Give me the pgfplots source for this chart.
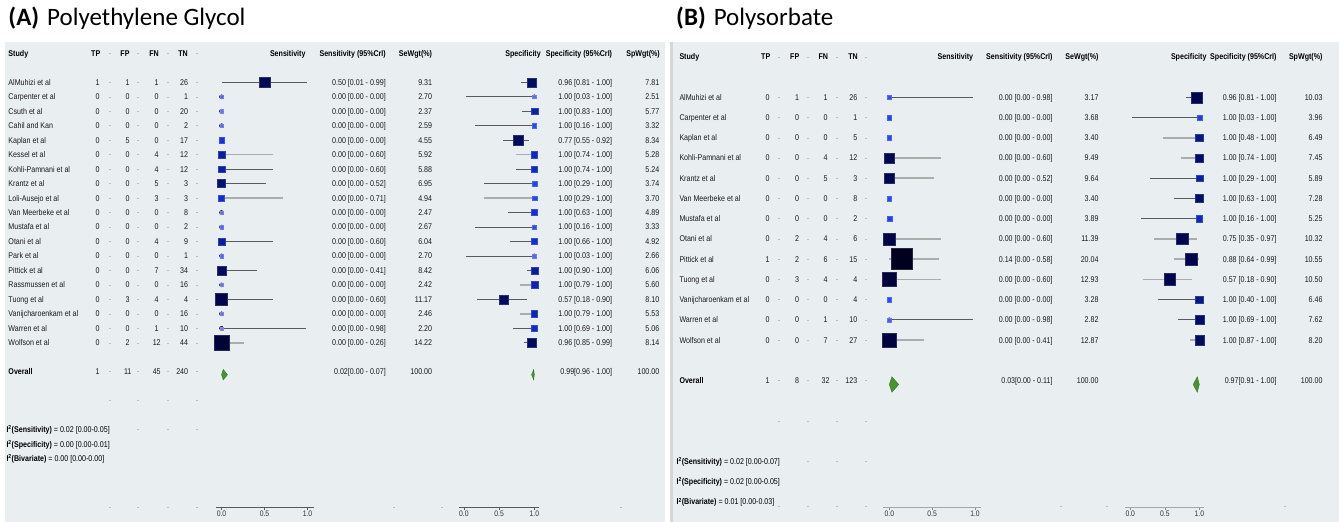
\documentclass[border=0pt]{standalone}
\usepackage{fontspec}
\setmainfont[FakeStretch=0.85]{Liberation Sans}
\newfontfamily\titlefont{Carlito}
\usepackage{pgfplots}
\usepackage{pgfplotstable}
\pgfplotsset{compat=1.18}

\definecolor{panelbg}{RGB}{233,238,241}
\definecolor{diam}{RGB}{74,145,52}
\definecolor{diamd}{RGB}{52,115,38}
\definecolor{cidark}{RGB}{90,90,90}
\definecolor{cilight}{RGB}{172,172,172}
\definecolor{sepc}{RGB}{185,190,195}

\newcommand{\tsz}{\fontsize{8.35}{9}\selectfont}

\pgfplotstableread[col sep=comma]{
y,study,tp,fp,fn,tn,secri,sew,spcri,spw,se,selo,sehi,sel,sp,splo,sphi,spl
-82.3,AlMuhizi et al,1,1,1,26,0.50 [0.01 - 0.99],9.31,0.96 [0.81 - 1.00],7.81,0.50,0.01,0.99,0,0.96,0.81,1.00,0
-96.8,Carpenter et al,0,0,0,1,0.00 [0.00 - 0.00],2.70,1.00 [0.03 - 1.00],2.51,0,0,0,0,1.00,0.03,1.00,0
-111.2,Csuth et al,0,0,0,20,0.00 [0.00 - 0.00],2.37,1.00 [0.83 - 1.00],5.77,0,0,0,0,1.00,0.83,1.00,0
-125.7,Cahil and Kan,0,0,0,2,0.00 [0.00 - 0.00],2.59,1.00 [0.16 - 1.00],3.32,0,0,0,0,1.00,0.16,1.00,0
-140.2,Kaplan et al,0,5,0,17,0.00 [0.00 - 0.00],4.55,0.77 [0.55 - 0.92],8.34,0,0,0,0,0.77,0.55,0.92,0
-154.7,Kessel et al,0,0,4,12,0.00 [0.00 - 0.60],5.92,1.00 [0.74 - 1.00],5.28,0,0,0.60,1,1.00,0.74,1.00,1
-169.1,Kohli-Pamnani et al,0,0,4,12,0.00 [0.00 - 0.60],5.88,1.00 [0.74 - 1.00],5.24,0,0,0.60,0,1.00,0.74,1.00,0
-183.6,Krantz et al,0,0,5,3,0.00 [0.00 - 0.52],6.95,1.00 [0.29 - 1.00],3.74,0,0,0.52,0,1.00,0.29,1.00,0
-198.1,Loli-Ausejo et al,0,0,3,3,0.00 [0.00 - 0.71],4.94,1.00 [0.29 - 1.00],3.70,0,0,0.71,1,1.00,0.29,1.00,1
-212.5,Van Meerbeke et al,0,0,0,8,0.00 [0.00 - 0.00],2.47,1.00 [0.63 - 1.00],4.89,0,0,0,0,1.00,0.63,1.00,0
-227.0,Mustafa et al,0,0,0,2,0.00 [0.00 - 0.00],2.67,1.00 [0.16 - 1.00],3.33,0,0,0,0,1.00,0.16,1.00,0
-241.5,Otani et al,0,0,4,9,0.00 [0.00 - 0.60],6.04,1.00 [0.66 - 1.00],4.92,0,0,0.60,0,1.00,0.66,1.00,0
-255.9,Park et al,0,0,0,1,0.00 [0.00 - 0.00],2.70,1.00 [0.03 - 1.00],2.66,0,0,0,0,1.00,0.03,1.00,0
-270.4,Pittick et al,0,0,7,34,0.00 [0.00 - 0.41],8.42,1.00 [0.90 - 1.00],6.06,0,0,0.41,0,1.00,0.90,1.00,0
-284.9,Rassmussen et al,0,0,0,16,0.00 [0.00 - 0.00],2.42,1.00 [0.79 - 1.00],5.60,0,0,0,0,1.00,0.79,1.00,1
-299.4,Tuong et al,0,3,4,4,0.00 [0.00 - 0.60],11.17,0.57 [0.18 - 0.90],8.10,0,0,0.60,0,0.57,0.18,0.90,0
-313.8,Vanijcharoenkam et al,0,0,0,16,0.00 [0.00 - 0.00],2.46,1.00 [0.79 - 1.00],5.53,0,0,0,0,1.00,0.79,1.00,1
-328.3,Warren et al,0,0,1,10,0.00 [0.00 - 0.98],2.20,1.00 [0.69 - 1.00],5.06,0,0,0.98,0,1.00,0.69,1.00,0
-342.8,Wolfson et al,0,2,12,44,0.00 [0.00 - 0.26],14.22,0.96 [0.85 - 0.99],8.14,0,0,0.26,1,0.96,0.85,0.99,0
-371.7,Overall,1,11,45,240,0.02[0.00 - 0.07],100.00,0.99[0.96 - 1.00],100.00,0.02,0.00,0.07,2,0.99,0.96,1.00,2
}\tabA

\pgfplotstableread[col sep=comma]{
y,study,tp,fp,fn,tn,secri,sew,spcri,spw,se,selo,sehi,sel,sp,splo,sphi,spl
-97.3,AlMuhizi et al,0,1,1,26,0.00 [0.00 - 0.98],3.17,0.96 [0.81 - 1.00],10.03,0,0,0.98,0,0.96,0.81,1.00,0
-117.5,Carpenter et al,0,0,0,1,0.00 [0.00 - 0.00],3.68,1.00 [0.03 - 1.00],3.96,0,0,0,0,1.00,0.03,1.00,0
-137.8,Kaplan et al,0,0,0,5,0.00 [0.00 - 0.00],3.40,1.00 [0.48 - 1.00],6.49,0,0,0,0,1.00,0.48,1.00,1
-158.0,Kohli-Pamnani et al,0,0,4,12,0.00 [0.00 - 0.60],9.49,1.00 [0.74 - 1.00],7.45,0,0,0.60,1,1.00,0.74,1.00,1
-178.2,Krantz et al,0,0,5,3,0.00 [0.00 - 0.52],9.64,1.00 [0.29 - 1.00],5.89,0,0,0.52,1,1.00,0.29,1.00,0
-198.5,Van Meerbeke et al,0,0,0,8,0.00 [0.00 - 0.00],3.40,1.00 [0.63 - 1.00],7.28,0,0,0,0,1.00,0.63,1.00,0
-218.7,Mustafa et al,0,0,0,2,0.00 [0.00 - 0.00],3.89,1.00 [0.16 - 1.00],5.25,0,0,0,0,1.00,0.16,1.00,0
-238.9,Otani et al,0,2,4,6,0.00 [0.00 - 0.60],11.39,0.75 [0.35 - 0.97],10.32,0,0,0.60,1,0.75,0.35,0.97,1
-259.1,Pittick et al,1,2,6,15,0.14 [0.00 - 0.58],20.04,0.88 [0.64 - 0.99],10.55,0.14,0,0.58,1,0.88,0.64,0.99,1
-279.4,Tuong et al,0,3,4,4,0.00 [0.00 - 0.60],12.93,0.57 [0.18 - 0.90],10.50,0,0,0.60,1,0.57,0.18,0.90,1
-299.6,Vanijcharoenkam et al,0,0,0,4,0.00 [0.00 - 0.00],3.28,1.00 [0.40 - 1.00],6.46,0,0,0,0,1.00,0.40,1.00,0
-319.8,Warren et al,0,0,1,10,0.00 [0.00 - 0.98],2.82,1.00 [0.69 - 1.00],7.62,0,0,0.98,0,1.00,0.69,1.00,0
-340.1,Wolfson et al,0,0,7,27,0.00 [0.00 - 0.41],12.87,1.00 [0.87 - 1.00],8.20,0,0,0.41,1,1.00,0.87,1.00,1
-380.5,Overall,1,8,32,123,0.03[0.00 - 0.11],100.00,0.97[0.91 - 1.00],100.00,0.03,0.00,0.11,2,0.97,0.91,1.00,2
}\tabB

\pgfplotsset{
  colormap={wt}{[1pt] rgb255(0pt)=(125,125,245); rgb255(13pt)=(45,75,245); rgb255(26pt)=(20,50,225); rgb255(40pt)=(10,30,160); rgb255(50pt)=(0,15,110); rgb255(70pt)=(0,8,85); rgb255(100pt)=(0,5,65); rgb255(180pt)=(0,0,30)},
  txt/.style={only marks, mark=none, nodes near coords, point meta=explicit symbolic,
    nodes near coords style={font=\tsz, inner sep=0pt, text height=6pt, text depth=0pt, anchor=#1, text=black!90}},
  forest/.style={scale only axis, clip=false, anchor=south west,
    height=507.5pt, ymin=-507.5, ymax=0, xmin=-0.07, xmax=1.07,
    axis y line=none, axis x line=bottom, ytick=\empty,
    xtick={0,0.5,1}, xticklabels={0.0,0.5,1.0},
    tick align=outside, major tick length=2.5pt,
    xticklabel style={font=\fontsize{8}{9}\selectfont, inner sep=1pt, text height=5.6pt, text depth=0pt, text=black!80},
    colormap name=wt, point meta min=2, point meta max=20},
  boxes/.style={scatter, only marks, mark=square*, point meta=explicit,
    scatter/use mapped color={draw=mapped color!85!white, fill=mapped color},
    visualization depends on={\thisrow{#1}\as\wt},
    scatter/@pre marker code/.append style={/tikz/mark size=0.5*\wt+0.5},
    mark options={line width=0.3pt}},
  cibar/.style={only marks, mark=none, error bars/.cd, x dir=both, x explicit, error mark=none, error bar style={#1}},
}
\tikzset{hdr/.style={font=\tsz\bfseries, inner sep=0pt, text height=6pt, text depth=0pt},
  itxt/.style={font=\tsz, inner sep=0pt, text height=6pt, text depth=0pt, anchor=west}}

\begin{document}
\begin{tikzpicture}
\useasboundingbox (0,0) rectangle (1339pt,522pt);
% ---------- frame with all text ----------
\begin{axis}[at={(0pt,0pt)}, anchor=south west, scale only axis, width=1339pt, height=522pt,
  xmin=0, xmax=1339, ymin=-522, ymax=0, hide axis, clip=false]
\fill[panelbg] (axis cs:5,-42.5) rectangle (axis cs:665,-522);
\fill[black!16] (axis cs:670,-42.5) rectangle (axis cs:673,-522);
\fill[panelbg] (axis cs:673,-42.5) rectangle (axis cs:1339,-522);
% titles
\node[anchor=base west, inner sep=0pt, font=\titlefont\fontsize{25}{28}\selectfont] at (axis cs:8.3,-26) {\textbf{(A)}\hspace{8pt}Polyethylene Glycol};
\node[anchor=base west, inner sep=0pt, font=\titlefont\fontsize{25}{28}\selectfont] at (axis cs:676,-26) {\textbf{(B)}\hspace{8pt}Polysorbate};
% headers A
\node[hdr, anchor=west] at (axis cs:8.3,-53.3) {Study};
\node[hdr] at (axis cs:95.7,-53.3) {TP};
\node[hdr] at (axis cs:125,-53.3) {FP};
\node[hdr] at (axis cs:154,-53.3) {FN};
\node[hdr] at (axis cs:183,-53.3) {TN};
\node[hdr, anchor=east] at (axis cs:305.7,-53.3) {Sensitivity};
\node[hdr, anchor=east] at (axis cs:386,-53.3) {Sensitivity (95\%CrI)};
\node[hdr, anchor=east] at (axis cs:432.3,-53.3) {SeWgt(\%)};
\node[hdr, anchor=east] at (axis cs:541,-53.3) {Specificity};
\node[hdr, anchor=east] at (axis cs:612.3,-53.3) {Specificity (95\%CrI)};
\node[hdr, anchor=east] at (axis cs:660,-53.3) {SpWgt(\%)};
\node[hdr, anchor=west] at (axis cs:8.3,-371.7) {Overall};
% headers B
\node[hdr, anchor=west] at (axis cs:679.3,-56.8) {Study};
\node[hdr] at (axis cs:765.7,-56.8) {TP};
\node[hdr] at (axis cs:794.7,-56.8) {FP};
\node[hdr] at (axis cs:823.3,-56.8) {FN};
\node[hdr] at (axis cs:853,-56.8) {TN};
\node[hdr, anchor=east] at (axis cs:973.3,-56.8) {Sensitivity};
\node[hdr, anchor=east] at (axis cs:1052.7,-56.8) {Sensitivity (95\%CrI)};
\node[hdr, anchor=east] at (axis cs:1098.7,-56.8) {SeWgt(\%)};
\node[hdr, anchor=east] at (axis cs:1206.7,-56.8) {Specificity};
\node[hdr, anchor=east] at (axis cs:1276.7,-56.8) {Specificity (95\%CrI)};
\node[hdr, anchor=east] at (axis cs:1322.7,-56.8) {SpWgt(\%)};
\node[hdr, anchor=west] at (axis cs:679.3,-380.5) {Overall};
% I^2 A
\node[itxt] at (axis cs:6.3,-429.6) {\textbf{I\textsuperscript{2}(Sensitivity)} = 0.02 [0.00-0.05]};
\node[itxt] at (axis cs:6.3,-444.1) {\textbf{I\textsuperscript{2}(Specificity)} = 0.00 [0.00-0.01]};
\node[itxt] at (axis cs:6.3,-458.6) {\textbf{I\textsuperscript{2}(Bivariate)} = 0.00 [0.00-0.00]};
% I^2 B
\node[itxt] at (axis cs:676.4,-461.4) {\textbf{I\textsuperscript{2}(Sensitivity)} = 0.02 [0.00-0.07]};
\node[itxt] at (axis cs:676.4,-481.6) {\textbf{I\textsuperscript{2}(Specificity)} = 0.02 [0.00-0.05]};
\node[itxt] at (axis cs:676.4,-501.9) {\textbf{I\textsuperscript{2}(Bivariate)} = 0.01 [0.00-0.03]};
% separators
\addplot[only marks, mark=-, mark size=1pt, sepc] table[x expr=110, y=y] {\tabA};
\addplot[only marks, mark=-, mark size=1pt, sepc] table[x expr=138, y=y] {\tabA};
\addplot[only marks, mark=-, mark size=1pt, sepc] table[x expr=168, y=y] {\tabA};
\addplot[only marks, mark=-, mark size=1pt, sepc] table[x expr=197, y=y] {\tabA};
\addplot[only marks, mark=-, mark size=1pt, sepc] table[x expr=779, y=y] {\tabB};
\addplot[only marks, mark=-, mark size=1pt, sepc] table[x expr=808.3, y=y] {\tabB};
\addplot[only marks, mark=-, mark size=1pt, sepc] table[x expr=837.3, y=y] {\tabB};
\addplot[only marks, mark=-, mark size=1pt, sepc] table[x expr=866, y=y] {\tabB};
\addplot[only marks, mark=-, mark size=1pt, sepc] coordinates {
 (110,-53.3) (138,-53.3) (168,-53.3) (197,-53.3)
 (110,-400.6) (138,-400.6) (168,-400.6) (197,-400.6)
 (138,-429.6) (168,-429.6) (197,-429.6)
 (110,-507.7) (138,-507.7) (168,-507.7) (197,-507.7) (393.5,-507.7) (442,-507.7) (620.8,-507.7)
 (779,-56.8) (808.3,-56.8) (837.3,-56.8) (866,-56.8)
 (779,-421) (808.3,-421) (837.3,-421) (866,-421)
 (808.3,-461.4) (837.3,-461.4) (866,-461.4)
 (779,-506.7) (808.3,-506.7) (837.3,-506.7) (866,-506.7) (1061.2,-506.7) (1107.3,-506.7) (1285.2,-506.7)};
% text columns A
\addplot[txt=west, restrict expr to domain={\thisrow{sel}}{-0.5:1.5}] table[x expr=8.3, y=y, meta=study] {\tabA};
\addplot[txt=center] table[x expr=97.7, y=y, meta=tp] {\tabA};
\addplot[txt=center] table[x expr=127.7, y=y, meta=fp] {\tabA};
\addplot[txt=center] table[x expr=156.7, y=y, meta=fn] {\tabA};
\addplot[txt=east] table[x expr=188.3, y=y, meta=tn] {\tabA};
\addplot[txt=east] table[x expr=386, y=y, meta=secri] {\tabA};
\addplot[txt=east] table[x expr=432.3, y=y, meta=sew] {\tabA};
\addplot[txt=east] table[x expr=612.3, y=y, meta=spcri] {\tabA};
\addplot[txt=east] table[x expr=659.5, y=y, meta=spw] {\tabA};
% text columns B
\addplot[txt=west, restrict expr to domain={\thisrow{sel}}{-0.5:1.5}] table[x expr=679.3, y=y, meta=study] {\tabB};
\addplot[txt=center] table[x expr=767.7, y=y, meta=tp] {\tabB};
\addplot[txt=center] table[x expr=797, y=y, meta=fp] {\tabB};
\addplot[txt=center] table[x expr=825.5, y=y, meta=fn] {\tabB};
\addplot[txt=east] table[x expr=857.5, y=y, meta=tn] {\tabB};
\addplot[txt=east] table[x expr=1052.7, y=y, meta=secri] {\tabB};
\addplot[txt=east] table[x expr=1098.7, y=y, meta=sew] {\tabB};
\addplot[txt=east] table[x expr=1276.7, y=y, meta=spcri] {\tabB};
\addplot[txt=east] table[x expr=1322.7, y=y, meta=spw] {\tabB};
\end{axis}

% ---------- A: sensitivity ----------
\begin{axis}[forest, at={(215.5pt,14.5pt)}, width=98pt,
  x axis line style={-, draw=black!65, line width=0.6pt}, xtick style={draw=black!65, line width=0.5pt}]
\addplot[restrict expr to domain={\thisrow{sel}}{-0.5:0.5}, cibar={cidark, line width=0.7pt}]
  table[x=se, y=y, x error plus expr=\thisrow{sehi}-\thisrow{se}, x error minus expr=\thisrow{se}-\thisrow{selo}] {\tabA};
\addplot[restrict expr to domain={\thisrow{sel}}{0.5:1.5}, cibar={cilight, line width=1.5pt}]
  table[x=se, y=y, x error plus expr=\thisrow{sehi}-\thisrow{se}, x error minus expr=\thisrow{se}-\thisrow{selo}] {\tabA};
\addplot[restrict expr to domain={\thisrow{sel}}{-0.5:1.5}, boxes=sew] table[x=se, y=y, meta=sew] {\tabA};
\addplot[fill=diam, draw=diamd, line width=0.3pt] coordinates {(0,-374.7) (0.02,-369.4) (0.07,-374.7) (0.02,-380) (0,-374.7)};
\end{axis}

% ---------- A: specificity ----------
\begin{axis}[forest, at={(459.0pt,14.5pt)}, width=80.3pt,
  x axis line style={-, draw=black!65, line width=0.6pt}, xtick style={draw=black!65, line width=0.5pt}]
\addplot[restrict expr to domain={\thisrow{spl}}{-0.5:0.5}, cibar={cidark, line width=0.7pt}]
  table[x=sp, y=y, x error plus expr=\thisrow{sphi}-\thisrow{sp}, x error minus expr=\thisrow{sp}-\thisrow{splo}] {\tabA};
\addplot[restrict expr to domain={\thisrow{spl}}{0.5:1.5}, cibar={cilight, line width=1.5pt}]
  table[x=sp, y=y, x error plus expr=\thisrow{sphi}-\thisrow{sp}, x error minus expr=\thisrow{sp}-\thisrow{splo}] {\tabA};
\addplot[restrict expr to domain={\thisrow{spl}}{-0.5:1.5}, boxes=spw] table[x=sp, y=y, meta=spw] {\tabA};
\addplot[fill=diam, draw=diamd, line width=0.3pt] coordinates {(0.96,-374.7) (0.99,-369.4) (1.00,-374.7) (0.99,-380) (0.96,-374.7)};
\end{axis}

% ---------- B: sensitivity ----------
\begin{axis}[forest, at={(883.3pt,14.5pt)}, width=97.7pt,
  x axis line style={-, draw=black!35, line width=1.6pt}, xtick style={draw=black!45, line width=0.6pt}]
\addplot[restrict expr to domain={\thisrow{sel}}{-0.5:0.5}, cibar={cidark, line width=0.7pt}]
  table[x=se, y=y, x error plus expr=\thisrow{sehi}-\thisrow{se}, x error minus expr=\thisrow{se}-\thisrow{selo}] {\tabB};
\addplot[restrict expr to domain={\thisrow{sel}}{0.5:1.5}, cibar={cilight, line width=1.5pt}]
  table[x=se, y=y, x error plus expr=\thisrow{sehi}-\thisrow{se}, x error minus expr=\thisrow{se}-\thisrow{selo}] {\tabB};
\addplot[restrict expr to domain={\thisrow{sel}}{-0.5:1.5}, boxes=sew] table[x=se, y=y, meta=sew] {\tabB};
\addplot[fill=diam, draw=diamd, line width=0.3pt] coordinates {(0,-384.5) (0.03,-376.7) (0.11,-384.5) (0.03,-392.3) (0,-384.5)};
\end{axis}

% ---------- B: specificity ----------
\begin{axis}[forest, at={(1125.4pt,14.5pt)}, width=78.8pt,
  x axis line style={-, draw=black!35, line width=1.6pt}, xtick style={draw=black!45, line width=0.6pt}]
\addplot[restrict expr to domain={\thisrow{spl}}{-0.5:0.5}, cibar={cidark, line width=0.7pt}]
  table[x=sp, y=y, x error plus expr=\thisrow{sphi}-\thisrow{sp}, x error minus expr=\thisrow{sp}-\thisrow{splo}] {\tabB};
\addplot[restrict expr to domain={\thisrow{spl}}{0.5:1.5}, cibar={cilight, line width=1.5pt}]
  table[x=sp, y=y, x error plus expr=\thisrow{sphi}-\thisrow{sp}, x error minus expr=\thisrow{sp}-\thisrow{splo}] {\tabB};
\addplot[restrict expr to domain={\thisrow{spl}}{-0.5:1.5}, boxes=spw] table[x=sp, y=y, meta=spw] {\tabB};
\addplot[fill=diam, draw=diamd, line width=0.3pt] coordinates {(0.91,-384.5) (0.97,-376.7) (1.00,-384.5) (0.97,-392.3) (0.91,-384.5)};
\end{axis}
\end{tikzpicture}
\end{document}
